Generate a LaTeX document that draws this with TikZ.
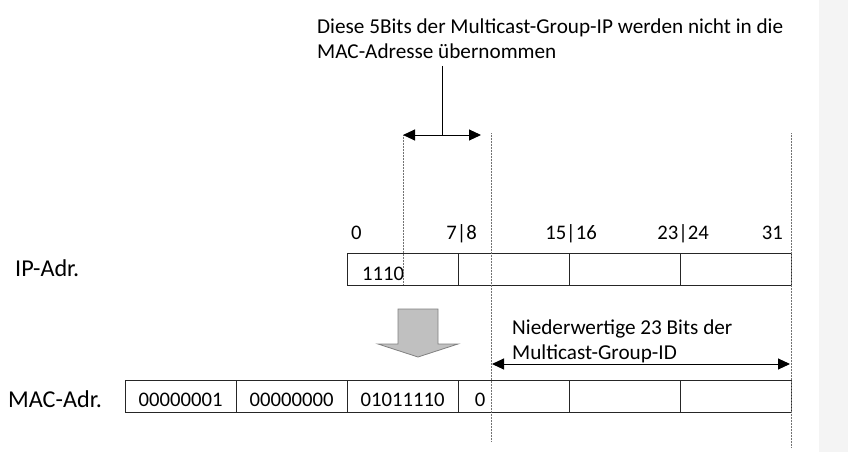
\documentclass[tikz,border=0pt]{standalone}
\usepackage{fontspec}
\setmainfont{Carlito}
\usetikzlibrary{arrows.meta}

\definecolor{randgrau}{HTML}{F4F4F4}
\definecolor{pfeilgrau}{HTML}{C0C0C0}

\tikzset{
  feld/.style={draw=black!85, line width=0.9pt, minimum width=111pt,
    minimum height=32pt, inner sep=0pt, outer sep=0pt},
  txt/.style={inner sep=0pt, font=\fontsize{20.7}{25}\selectfont},
  gross/.style={inner sep=0pt, font=\fontsize{21.2}{25}\selectfont},
  zeile/.style={inner sep=0pt, font=\fontsize{24.2}{28}\selectfont},
  hilfslinie/.style={draw=black!55, line width=0.9pt, dash pattern=on 1pt off 0.5pt},
  doppelpfeil/.style={line width=1pt,
    {Triangle[length=12pt,width=11pt]}-{Triangle[length=12pt,width=11pt]}},
}

\begin{document}
\begin{tikzpicture}[x=1pt, y=-1pt]
  \useasboundingbox (0,0) rectangle (848,452);
  \fill[randgrau] (819,0) rectangle (848,452);

  % 1. Beschriftung oben und Hilfspunkte
  \node[gross, anchor=base west, align=left] (hinweis) at (317,59)
    {Diese 5Bits der Multicast-Group-IP werden nicht in die\\MAC-Adresse übernommen};
  \coordinate (lt) at (442,66);
  \coordinate (lb) at (442,135);
  \coordinate (a1) at (403,135);
  \coordinate (a2) at (481,135);

  % 2. IP-Adresse: 4 Bytes
  \node[zeile, anchor=base west] (ipname) at (15,276) {IP-Adr.};
  \foreach \i in {0,...,3}
    \node[feld] (ip\i) at ({402.5+111*\i},269) {};
  \node[txt, anchor=base west] (einseinsnull) at (362,280) {1110};

  % 3. Bitnummern
  \node[txt, anchor=base west] (b0) at (351,239) {0};
  \node[txt, anchor=base east] (b8) at (477,239) {7|8};
  \node[txt, anchor=base] (b16) at (571,239) {15|16};
  \node[txt, anchor=base] (b24) at (683,239) {23|24};
  \node[txt, anchor=base east] (b31) at (783,239) {31};

  % 4. MAC-Adresse: 6 Bytes
  \node[zeile, anchor=base west] (macname) at (8,407) {MAC-Adr.};
  \foreach \i in {0,...,5}
    \node[feld] (mac\i) at ({180.5+111*\i},396) {};
  \node[txt, anchor=base] (m0) at (mac0.center |- 0,406) {00000001};
  \node[txt, anchor=base] (m1) at (mac1.center |- 0,406) {00000000};
  \node[txt, anchor=base] (m2) at (mac2.center |- 0,406) {01011110};
  \node[txt, anchor=base] (m3) at (480,406) {0};

  % 5. gestrichelte Linien
  \coordinate (v1o) at (403,135);
  \coordinate (v1u) at (403,285);
  \coordinate (v2o) at (491,133);
  \coordinate (v2u) at (491,442);
  \coordinate (v3o) at (791,133);
  \coordinate (v3u) at (791,447);
  \draw[hilfslinie] (v1o) -- (v1u);
  \draw[hilfslinie] (v2o) -- (v2u);
  \draw[hilfslinie] (v3o) -- (v3u);

  % 6. Pfeile
  \draw[line width=1pt] (lt) -- (lb);
  \draw[doppelpfeil] (a1) -- (a2);
  \node[gross, anchor=base west, align=left] (niederwertig) at (512,359)
    {Niederwertige 23 Bits der\\Multicast-Group-ID};
  \coordinate (n1) at (492,364);
  \coordinate (n2) at (790,364);
  \draw[doppelpfeil] (n1) -- (n2);

  % 7. grauer Blockpfeil
  \draw[fill=pfeilgrau, draw=gray, line width=0.8pt]
    (398,309) -- (438,309) -- (438,344) -- (458,344) -- (418,357)
    -- (378,344) -- (398,344) -- cycle;
\end{tikzpicture}
\end{document}
